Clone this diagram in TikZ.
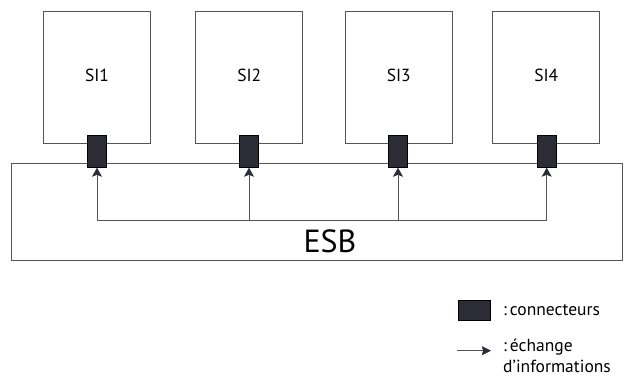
\documentclass[tikz,border=0pt]{standalone}
\usepackage{fontspec}
\setmainfont{PT Sans}
\usetikzlibrary{arrows.meta}
\definecolor{conn}{HTML}{2B2C35}
\definecolor{ln}{HTML}{555555}
\begin{document}
\begin{tikzpicture}[x=1pt,y=-1pt,
  sibox/.style={draw=ln,line width=0.7pt,fill=white,minimum width=107pt,minimum height=131.5pt,inner sep=0pt},
  connbox/.style={draw=black,fill=conn,line width=0.5pt,minimum width=19pt,minimum height=32pt,inner sep=0pt},
  flow/.style={draw=ln,line width=0.6pt,-{Stealth[length=9pt,width=10pt,inset=2pt,conn]}},
  lflow/.style={draw=ln,line width=0.6pt,-{Stealth[length=9pt,width=9pt,inset=1pt,conn]}},
  lbl/.style={font=\fontsize{17.5}{21}\selectfont}]
\useasboundingbox (0,0) rectangle (633,385);
% ESB
\node[draw=ln,line width=0.7pt,minimum width=611pt,minimum height=97pt,inner sep=0pt] (esb) at (317.2,211.7) {};
\node[font=\fontsize{32}{34}\selectfont] (esbl) at (330,241) {ESB};
% SI boxes
\node[sibox] (si1) at (97,77.5) {};
\node[sibox] (si2) at (249.3,77.5) {};
\node[sibox] (si3) at (398.8,77.5) {};
\node[sibox] (si4) at (546.3,77.5) {};
\node[lbl] at (97,75) {SI1};
\node[lbl] at (249.3,75) {SI2};
\node[lbl] at (398.8,75) {SI3};
\node[lbl] at (546.3,75) {SI4};
% connectors
\node[connbox] (c1) at (97,151.5) {};
\node[connbox] (c2) at (249,151.5) {};
\node[connbox] (c3) at (398,151.5) {};
\node[connbox] (c4) at (546.7,151.5) {};
% bus line
\coordinate (b1) at (97,220.7);
\coordinate (b2) at (249,220.7);
\coordinate (b3) at (398,220.7);
\coordinate (b4) at (546.7,220.7);
\draw[draw=ln,line width=0.6pt] (b1) -- (b4);
\draw[flow] (b1) -- (c1.south);
\draw[flow] (b2) -- (c2.south);
\draw[flow] (b3) -- (c3.south);
\draw[flow] (b4) -- (c4.south);
% legend
\node[draw=black,fill=conn,line width=0.5pt,minimum width=32pt,minimum height=20pt,inner sep=0pt] (lg1) at (474.6,310.7) {};
\node[anchor=west,lbl,inner sep=0pt] (lt1) at (503,310.5) {:\,connecteurs};
\coordinate (la1) at (456.7,350.7);
\coordinate (la2) at (491,350.7);
\draw[lflow] (la1) -- (la2);
\node[anchor=north west,lbl,inner sep=0pt,align=left] (lt2) at (503,339) {:\,échange\\d’informations};
\end{tikzpicture}
\end{document}
